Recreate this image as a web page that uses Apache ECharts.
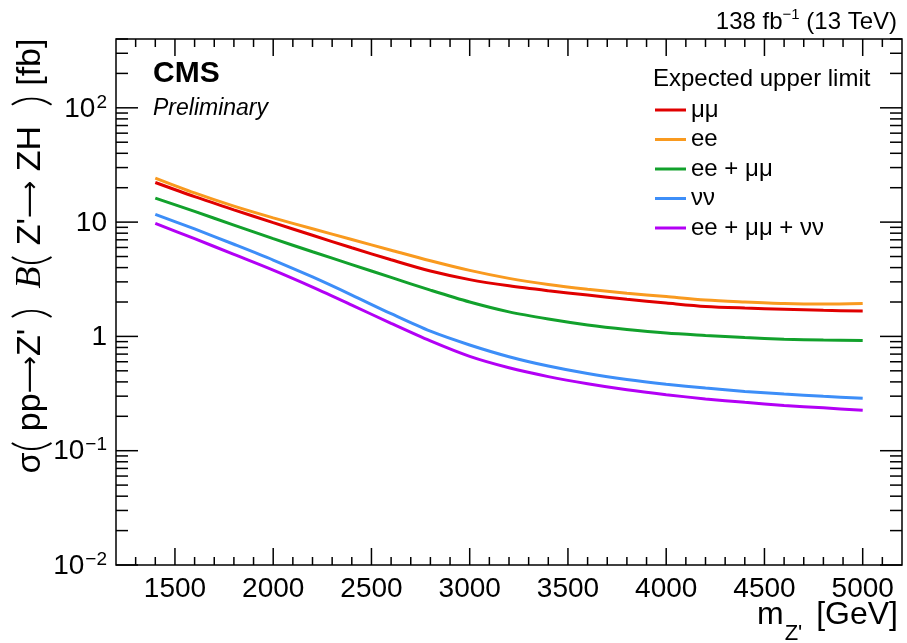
<!DOCTYPE html>
<html>
<head>
<meta charset="utf-8">
<script src="https://cdn.jsdelivr.net/npm/echarts@6/dist/echarts.min.js"></script>
<style>
  html, body { margin: 0; padding: 0; background: #ffffff; }
  #chart { width: 907px; height: 643px; }
</style>
</head>
<body>
<div id="chart"></div>
<script>
// Z' mass points (GeV)
const massPoints = [1400, 1600, 1800, 2000, 2200, 2400, 2600, 2800, 3000, 3200,
                    3400, 3600, 3800, 4000, 4200, 4400, 4600, 4800, 5000];

// Expected upper limits on sigma x B (fb) per channel
const limitMuMu = [22.2, 16.7, 12.8, 9.89, 7.67, 5.96, 4.68, 3.73, 3.14, 2.77,
                   2.51, 2.30, 2.11, 1.96, 1.83, 1.77, 1.73, 1.69, 1.67];
const limitEE = [24.3, 18.0, 13.8, 10.9, 8.75, 7.05, 5.68, 4.59, 3.78, 3.22,
                 2.85, 2.59, 2.39, 2.23, 2.08, 2.00, 1.94, 1.92, 1.94];
const limitEEMuMu = [16.2, 12.4, 9.42, 7.16, 5.50, 4.25, 3.28, 2.54, 2.00, 1.64,
                     1.42, 1.26, 1.15, 1.07, 1.02, 0.977, 0.946, 0.929, 0.920];
const limitNuNu = [11.7, 8.71, 6.40, 4.66, 3.31, 2.30, 1.58, 1.11, 0.841, 0.664,
                   0.550, 0.473, 0.420, 0.382, 0.353, 0.330, 0.313, 0.299, 0.288];
const limitAll = [9.75, 7.16, 5.22, 3.80, 2.70, 1.88, 1.30, 0.912, 0.668, 0.531,
                  0.445, 0.385, 0.341, 0.309, 0.284, 0.265, 0.249, 0.237, 0.226];

const seriesNames = ['μμ', 'ee', 'ee + μμ', 'νν', 'ee + μμ + νν'];
const seriesColors = ['#e00000', '#f99a1f', '#12a12c', '#3d8ef8', '#b300f5'];
const seriesValues = [limitMuMu, limitEE, limitEEMuMu, limitNuNu, limitAll];

// Axis ranges and tick labels
const xMin = 1200, xMax = 5200;
const yMin = 0.01, yMax = 400;
const xMajorTicks = [1500, 2000, 2500, 3000, 3500, 4000, 4500, 5000];
const yDecades = [-2, -1, 0, 1, 2];
const yDecadeLabels = ['10^−2', '10^−1', '1', '10', '10^2'];

// tick positions (major + minor) for the framed axes
const xTicks = [];
for (let m = 1300; m < xMax; m += 100) xTicks.push([m, 1, xMajorTicks.includes(m) ? 1 : 0]);
const yTicks = [];
for (const d of yDecades) {
  for (let k = 1; k <= 9; k++) {
    const v = k * Math.pow(10, d);
    if (v <= yMax * 1.0001) yTicks.push([xMin, v, k === 1 ? 1 : 0]);
  }
}

const FONT = '"Liberation Sans", Arial, Helvetica, sans-serif';
const ARROW_FONT = '"DejaVu Sans", sans-serif';

const lineSeries = seriesNames.map((name, i) => ({
  name: name,
  type: 'line',
  data: massPoints.map((m, j) => [m, seriesValues[i][j]]),
  smooth: 0.3,
  showSymbol: false,
  symbol: 'none',
  lineStyle: { color: seriesColors[i], width: 3 },
  itemStyle: { color: seriesColors[i] },
  z: 3
}));

const tickStyle = { stroke: '#000', lineWidth: 1.5 };

const chart = echarts.init(document.getElementById('chart'), null, { renderer: 'canvas' });

chart.setOption({
  animation: false,
  backgroundColor: '#ffffff',
  grid: {
    left: 116, right: 5, top: 39, bottom: 78,
    show: true, borderColor: '#000', borderWidth: 1.5, backgroundColor: 'transparent'
  },
  xAxis: {
    type: 'value', min: xMin, max: xMax, interval: 100,
    axisLine: { show: false }, axisTick: { show: false }, splitLine: { show: false },
    axisLabel: {
      margin: 10, color: '#000', fontFamily: FONT, fontSize: 28,
      formatter: v => (xMajorTicks.includes(Math.round(v)) ? String(Math.round(v)) : '')
    }
  },
  yAxis: {
    type: 'log', logBase: 10, min: yMin, max: yMax, interval: 1,
    axisLine: { show: false }, axisTick: { show: false }, splitLine: { show: false },
    axisLabel: {
      margin: 9, color: '#000', fontFamily: FONT, fontSize: 28,
      formatter: v => {
        const d = Math.log10(v);
        const r = Math.round(d);
        if (Math.abs(d - r) > 1e-6) return '';
        const idx = yDecades.indexOf(r);
        if (idx < 0) return '';
        const lab = yDecadeLabels[idx];
        if (lab.indexOf('^') >= 0) {
          const parts = lab.split('^');
          return '{b|' + parts[0] + '}{s|' + parts[1] + '}';
        }
        return '{b|' + lab + '}';
      },
      rich: {
        b: { fontFamily: FONT, fontSize: 28, color: '#000', lineHeight: 30, verticalAlign: 'bottom' },
        s: { fontFamily: FONT, fontSize: 19, color: '#000', lineHeight: 30, verticalAlign: 'top', padding: [0, 0, 8, 1] }
      }
    }
  },
  legend: {
    data: seriesNames,
    orient: 'vertical',
    left: 655, top: 98,
    padding: 0,
    itemGap: 5.5,
    itemWidth: 31, itemHeight: 3,
    icon: 'rect',
    textStyle: { fontFamily: FONT, fontSize: 24, color: '#000', lineHeight: 24 },
    selectedMode: false
  },
  series: [
    ...lineSeries,
    {
      type: 'custom', name: 'xTicks', silent: true, clip: false, z: 4,
      data: xTicks,
      renderItem: (params, api) => {
        const px = api.coord([api.value(0), 1])[0];
        const cs = params.coordSys;
        const len = api.value(2) ? 17 : 8;
        const b = cs.y + cs.height, t = cs.y;
        return {
          type: 'group', children: [
            { type: 'line', shape: { x1: px, y1: b, x2: px, y2: b - len }, style: tickStyle },
            { type: 'line', shape: { x1: px, y1: t, x2: px, y2: t + len }, style: tickStyle }
          ]
        };
      }
    },
    {
      type: 'custom', name: 'yTicks', silent: true, clip: false, z: 4,
      data: yTicks,
      renderItem: (params, api) => {
        const py = api.coord([xMin, api.value(1)])[1];
        const cs = params.coordSys;
        const len = api.value(2) ? 22 : 12;
        const l = cs.x, r = cs.x + cs.width;
        return {
          type: 'group', children: [
            { type: 'line', shape: { x1: l, y1: py, x2: l + len, y2: py }, style: tickStyle },
            { type: 'line', shape: { x1: r, y1: py, x2: r - len, y2: py }, style: tickStyle }
          ]
        };
      }
    }
  ],
  graphic: [
    {
      type: 'text', x: 153, y: 74, z: 10,
      style: { text: 'CMS', font: 'bold 30px ' + FONT, fill: '#000', align: 'left', verticalAlign: 'middle', textAlign: 'left', textVerticalAlign: 'middle' }
    },
    {
      type: 'text', x: 153, y: 109, z: 10,
      style: { text: 'Preliminary', font: 'italic 23px ' + FONT, fill: '#000', align: 'left', verticalAlign: 'middle', textAlign: 'left', textVerticalAlign: 'middle' }
    },
    {
      type: 'text', x: 897, y: 21, z: 10,
      style: {
        text: '{n|138 fb}{s|−1}{n| (13 TeV)}',
        align: 'right', verticalAlign: 'middle', textAlign: 'right', textVerticalAlign: 'middle',
        rich: {
          n: { fontFamily: FONT, fontSize: 24, fill: '#000', color: '#000', lineHeight: 27, verticalAlign: 'bottom' },
          s: { fontFamily: FONT, fontSize: 15, fill: '#000', color: '#000', lineHeight: 27, verticalAlign: 'top' }
        }
      }
    },
    {
      type: 'text', x: 653, y: 79, z: 10,
      style: { text: 'Expected upper limit', font: '24px ' + FONT, fill: '#000', align: 'left', verticalAlign: 'middle', textAlign: 'left', textVerticalAlign: 'middle' }
    },
    {
      type: 'text', x: 898, y: 622, z: 10,
      style: {
        text: '{n|m}{s|Z\'}{n| [GeV]}',
        align: 'right', verticalAlign: 'middle', textAlign: 'right', textVerticalAlign: 'middle',
        rich: {
          n: { fontFamily: FONT, fontSize: 32, color: '#000', fill: '#000', lineHeight: 36, verticalAlign: 'top' },
          s: { fontFamily: FONT, fontSize: 22, color: '#000', fill: '#000', lineHeight: 46, verticalAlign: 'bottom', padding: [0, 5, 0, 1] }
        }
      }
    },
    {
      type: 'text', x: 31, y: 256, rotation: Math.PI / 2, z: 10,
      style: {
        text: '{t|σ}{p|(}{t| pp}{a|⟶}{t|Z\' }{p|)}{t|  }{b|B}{p|(}{t| Z\'}{a|⟶}{t| ZH  }{p|)}{t| [fb]}',
        align: 'center', verticalAlign: 'middle', textAlign: 'center', textVerticalAlign: 'middle',
        rich: {
          t: { fontFamily: FONT, fontSize: 34, color: '#000', fill: '#000', lineHeight: 46, verticalAlign: 'middle' },
          a: { fontFamily: ARROW_FONT, fontSize: 26, color: '#000', fill: '#000', lineHeight: 46, verticalAlign: 'middle' },
          p: { fontFamily: 'Lato, ' + FONT, fontWeight: 300, fontSize: 46, color: '#000', fill: '#000', lineHeight: 46, verticalAlign: 'middle' },
          b: { fontFamily: '"Liberation Serif", "DejaVu Serif", serif', fontStyle: 'italic', fontSize: 36, color: '#000', fill: '#000', lineHeight: 46, verticalAlign: 'middle' }
        }
      }
    }
  ]
});
</script>
</body>
</html>
